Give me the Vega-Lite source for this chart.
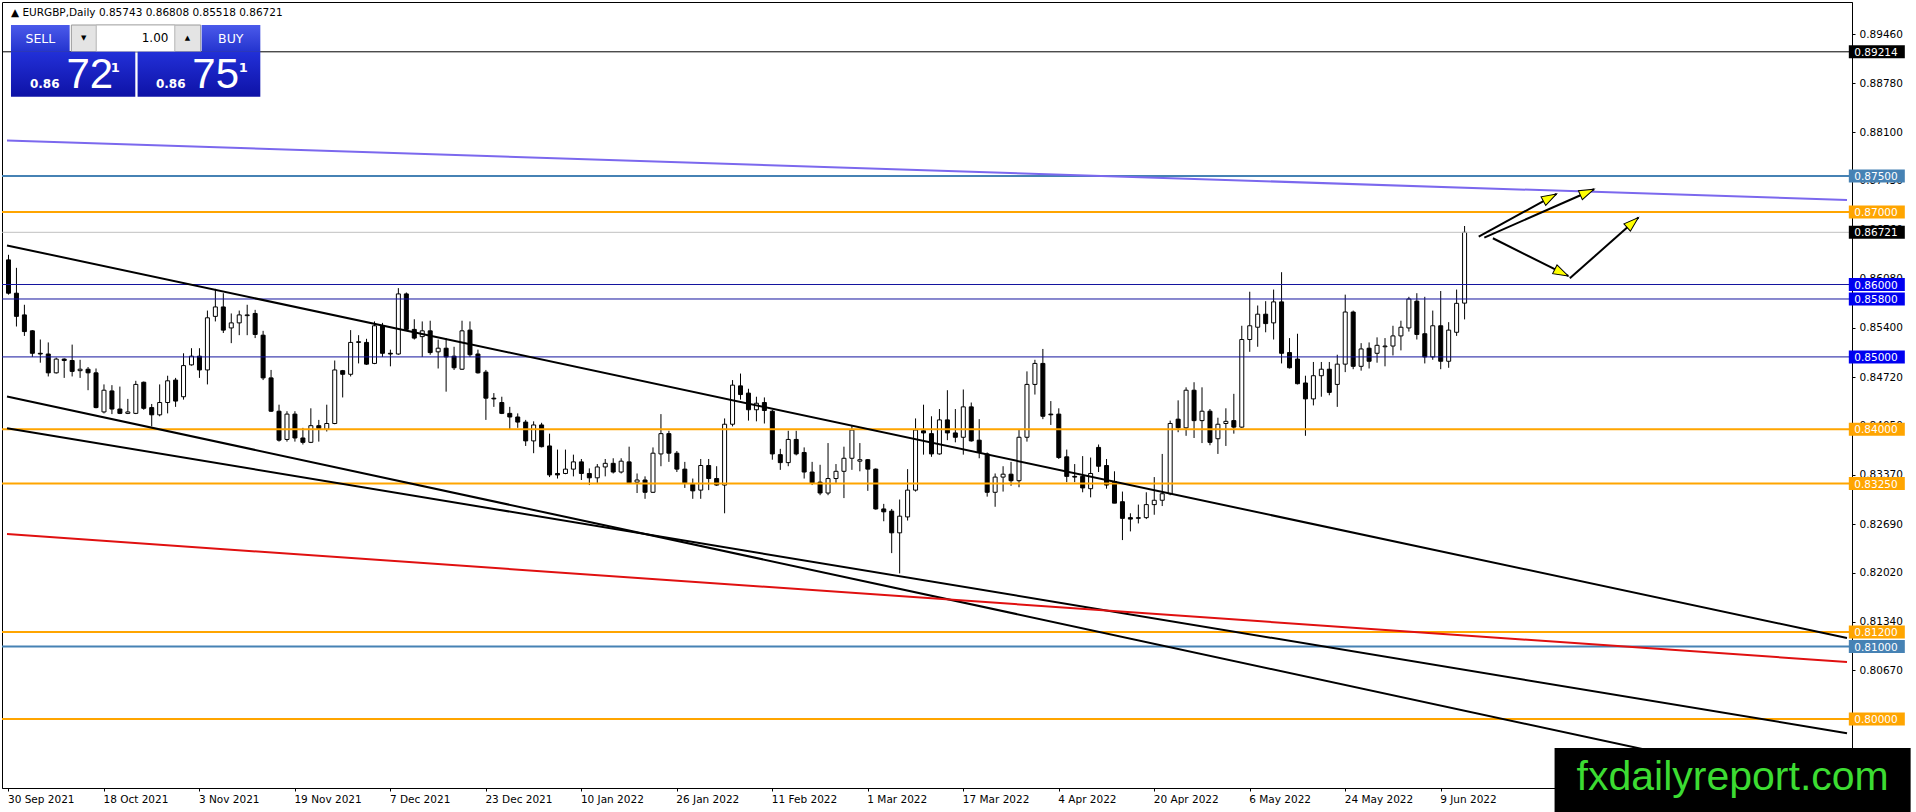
{
  "$schema": "https://vega.github.io/schema/vega-lite/v6.json",
  "description": "EURGBP daily candles, 30 Sep 2021 - 14 Jun 2022, with levels and trend lines",
  "width": 1850,
  "height": 786,
  "autosize": {"type": "none"},
  "padding": {"left": 2, "top": 2, "right": 64, "bottom": 24},
  "background": "white",
  "config": {"view": {"stroke": "#000000", "strokeWidth": 1}, "font": "DejaVu Sans"},
  "resolve": {"axis": {"x": "independent", "y": "independent"}},
  "data": {"values": [{}]},
  "datasets": {
    "candles": [
      {"i":0,"o":0.8634,"h":0.8641,"l":0.8586,"c":0.8588},{"i":1,"o":0.8588,"h":0.8623,"l":0.8542,"c":0.8556},{"i":2,"o":0.8558,"h":0.8572,"l":0.8529,"c":0.8535},{"i":3,"o":0.8536,"h":0.8537,"l":0.85,"c":0.8505},
      {"i":4,"o":0.8505,"h":0.8524,"l":0.8492,"c":0.8504},{"i":5,"o":0.8504,"h":0.852,"l":0.8473,"c":0.8478},{"i":6,"o":0.8478,"h":0.8499,"l":0.8477,"c":0.8497},{"i":7,"o":0.8497,"h":0.8498,"l":0.8471,"c":0.8495},
      {"i":8,"o":0.8495,"h":0.8517,"l":0.8473,"c":0.848},{"i":9,"o":0.8481,"h":0.8496,"l":0.8471,"c":0.8483},{"i":10,"o":0.8483,"h":0.8486,"l":0.8454,"c":0.8478},{"i":11,"o":0.8478,"h":0.8484,"l":0.8429,"c":0.843},
      {"i":12,"o":0.8424,"h":0.8462,"l":0.8422,"c":0.8454},{"i":13,"o":0.8453,"h":0.8461,"l":0.8421,"c":0.8428},{"i":14,"o":0.8428,"h":0.8459,"l":0.8421,"c":0.8422},{"i":15,"o":0.8422,"h":0.8442,"l":0.8421,"c":0.8424},
      {"i":16,"o":0.8422,"h":0.8467,"l":0.8421,"c":0.8462},{"i":17,"o":0.8465,"h":0.8466,"l":0.8427,"c":0.8429},{"i":18,"o":0.843,"h":0.8435,"l":0.8404,"c":0.842},{"i":19,"o":0.842,"h":0.8462,"l":0.8418,"c":0.8437},
      {"i":20,"o":0.8437,"h":0.8474,"l":0.8422,"c":0.8467},{"i":21,"o":0.8468,"h":0.8471,"l":0.8431,"c":0.8439},{"i":22,"o":0.8445,"h":0.8505,"l":0.8441,"c":0.8488},{"i":23,"o":0.8489,"h":0.8512,"l":0.8488,"c":0.8501},
      {"i":24,"o":0.8501,"h":0.8512,"l":0.8471,"c":0.8482},{"i":25,"o":0.8482,"h":0.8564,"l":0.8462,"c":0.8554},{"i":26,"o":0.8556,"h":0.8594,"l":0.8549,"c":0.8569},{"i":27,"o":0.8569,"h":0.8588,"l":0.8533,"c":0.8537},
      {"i":28,"o":0.854,"h":0.856,"l":0.8519,"c":0.8547},{"i":29,"o":0.8547,"h":0.8564,"l":0.853,"c":0.8558},{"i":30,"o":0.8557,"h":0.8572,"l":0.853,"c":0.8558},{"i":31,"o":0.856,"h":0.8565,"l":0.8526,"c":0.8531},
      {"i":32,"o":0.853,"h":0.8536,"l":0.8468,"c":0.8471},{"i":33,"o":0.8471,"h":0.8482,"l":0.8424,"c":0.8425},{"i":34,"o":0.8425,"h":0.8434,"l":0.8383,"c":0.8385},{"i":35,"o":0.8386,"h":0.8425,"l":0.8383,"c":0.8421},
      {"i":36,"o":0.8421,"h":0.8425,"l":0.8383,"c":0.8388},{"i":37,"o":0.8388,"h":0.8402,"l":0.8379,"c":0.8382},{"i":38,"o":0.8382,"h":0.8429,"l":0.8381,"c":0.8405},{"i":39,"o":0.8405,"h":0.8413,"l":0.8383,"c":0.8401},
      {"i":40,"o":0.84,"h":0.8434,"l":0.8397,"c":0.8408},{"i":41,"o":0.8408,"h":0.8495,"l":0.8407,"c":0.8482},{"i":42,"o":0.8481,"h":0.8482,"l":0.8444,"c":0.8476},{"i":43,"o":0.8476,"h":0.8537,"l":0.8473,"c":0.852},
      {"i":44,"o":0.852,"h":0.853,"l":0.8491,"c":0.8521},{"i":45,"o":0.852,"h":0.8525,"l":0.8489,"c":0.849},{"i":46,"o":0.8491,"h":0.8549,"l":0.849,"c":0.8543},{"i":47,"o":0.8543,"h":0.8547,"l":0.85,"c":0.8505},
      {"i":48,"o":0.8505,"h":0.851,"l":0.8487,"c":0.8504},{"i":49,"o":0.8504,"h":0.8595,"l":0.8503,"c":0.8587},{"i":50,"o":0.8587,"h":0.8589,"l":0.8537,"c":0.8538},{"i":51,"o":0.8538,"h":0.8552,"l":0.8524,"c":0.8526},
      {"i":52,"o":0.8528,"h":0.8549,"l":0.85,"c":0.8536},{"i":53,"o":0.8536,"h":0.855,"l":0.8503,"c":0.8506},{"i":54,"o":0.8507,"h":0.8524,"l":0.8484,"c":0.8512},{"i":55,"o":0.8512,"h":0.8526,"l":0.8452,"c":0.85},
      {"i":56,"o":0.8501,"h":0.8514,"l":0.8482,"c":0.8485},{"i":57,"o":0.8483,"h":0.855,"l":0.8482,"c":0.8536},{"i":58,"o":0.8537,"h":0.8549,"l":0.85,"c":0.8503},{"i":59,"o":0.8504,"h":0.851,"l":0.8477,"c":0.8478},
      {"i":60,"o":0.8479,"h":0.8482,"l":0.8413,"c":0.8443},{"i":61,"o":0.8443,"h":0.845,"l":0.8431,"c":0.8442},{"i":62,"o":0.8437,"h":0.8445,"l":0.8421,"c":0.8422},{"i":63,"o":0.8422,"h":0.8431,"l":0.84,"c":0.8417},
      {"i":64,"o":0.8417,"h":0.8422,"l":0.8402,"c":0.841},{"i":65,"o":0.841,"h":0.8413,"l":0.8377,"c":0.8384},{"i":66,"o":0.8384,"h":0.8411,"l":0.8367,"c":0.8406},{"i":67,"o":0.8406,"h":0.8409,"l":0.8375,"c":0.8376},
      {"i":68,"o":0.8377,"h":0.8394,"l":0.8334,"c":0.8337},{"i":69,"o":0.8339,"h":0.8372,"l":0.8332,"c":0.8337},{"i":70,"o":0.8339,"h":0.8372,"l":0.8338,"c":0.8345},{"i":71,"o":0.8345,"h":0.8365,"l":0.8335,"c":0.8355},
      {"i":72,"o":0.8355,"h":0.8359,"l":0.833,"c":0.8339},{"i":73,"o":0.8339,"h":0.8346,"l":0.8323,"c":0.8333},{"i":74,"o":0.8333,"h":0.8352,"l":0.8326,"c":0.8348},{"i":75,"o":0.8348,"h":0.8359,"l":0.8335,"c":0.8353},
      {"i":76,"o":0.8353,"h":0.836,"l":0.8339,"c":0.8341},{"i":77,"o":0.8341,"h":0.836,"l":0.8339,"c":0.8356},{"i":78,"o":0.8355,"h":0.8376,"l":0.8325,"c":0.8326},{"i":79,"o":0.8327,"h":0.8339,"l":0.8312,"c":0.833},
      {"i":80,"o":0.833,"h":0.8335,"l":0.8304,"c":0.8313},{"i":81,"o":0.8313,"h":0.8375,"l":0.8312,"c":0.8367},{"i":82,"o":0.8366,"h":0.8421,"l":0.8349,"c":0.8394},{"i":83,"o":0.8394,"h":0.8398,"l":0.8355,"c":0.8367},
      {"i":84,"o":0.8367,"h":0.837,"l":0.8341,"c":0.8345},{"i":85,"o":0.8345,"h":0.8355,"l":0.8319,"c":0.8326},{"i":86,"o":0.8324,"h":0.8332,"l":0.8304,"c":0.8315},{"i":87,"o":0.8316,"h":0.8359,"l":0.8304,"c":0.835},
      {"i":88,"o":0.835,"h":0.8359,"l":0.8316,"c":0.8332},{"i":89,"o":0.8332,"h":0.8349,"l":0.8322,"c":0.8323},{"i":90,"o":0.8323,"h":0.8415,"l":0.8284,"c":0.8407},{"i":91,"o":0.8407,"h":0.8468,"l":0.8404,"c":0.8461},
      {"i":92,"o":0.846,"h":0.8477,"l":0.8441,"c":0.8448},{"i":93,"o":0.845,"h":0.8456,"l":0.8412,"c":0.8427},{"i":94,"o":0.8427,"h":0.8445,"l":0.8411,"c":0.8436},{"i":95,"o":0.8437,"h":0.8444,"l":0.8408,"c":0.8426},
      {"i":96,"o":0.8425,"h":0.8427,"l":0.8358,"c":0.8366},{"i":97,"o":0.8365,"h":0.8373,"l":0.8344,"c":0.8354},{"i":98,"o":0.8354,"h":0.8398,"l":0.8349,"c":0.8386},{"i":99,"o":0.8386,"h":0.8398,"l":0.8364,"c":0.8366},
      {"i":100,"o":0.8368,"h":0.8375,"l":0.8332,"c":0.8341},{"i":101,"o":0.8341,"h":0.8355,"l":0.8323,"c":0.8326},{"i":102,"o":0.8327,"h":0.8351,"l":0.8309,"c":0.8312},{"i":103,"o":0.8312,"h":0.8381,"l":0.8309,"c":0.8332},
      {"i":104,"o":0.8332,"h":0.8352,"l":0.8326,"c":0.8342},{"i":105,"o":0.8342,"h":0.8376,"l":0.8305,"c":0.836},{"i":106,"o":0.836,"h":0.8405,"l":0.8344,"c":0.8399},{"i":107,"o":0.8356,"h":0.8381,"l":0.8342,"c":0.8358},
      {"i":108,"o":0.8358,"h":0.8359,"l":0.8315,"c":0.8345},{"i":109,"o":0.8345,"h":0.8346,"l":0.8289,"c":0.829},{"i":110,"o":0.829,"h":0.8297,"l":0.8273,"c":0.8286},{"i":111,"o":0.8287,"h":0.829,"l":0.8229,"c":0.8257},
      {"i":112,"o":0.8257,"h":0.8303,"l":0.8201,"c":0.828},{"i":113,"o":0.8279,"h":0.8345,"l":0.8274,"c":0.8316},{"i":114,"o":0.8316,"h":0.8415,"l":0.8314,"c":0.8399},{"i":115,"o":0.8398,"h":0.8434,"l":0.8365,"c":0.8395},
      {"i":116,"o":0.8394,"h":0.8418,"l":0.8362,"c":0.8366},{"i":117,"o":0.8366,"h":0.8428,"l":0.8365,"c":0.8413},{"i":118,"o":0.8413,"h":0.8454,"l":0.8385,"c":0.8395},{"i":119,"o":0.8395,"h":0.8428,"l":0.8382,"c":0.8389},
      {"i":120,"o":0.8389,"h":0.8455,"l":0.8365,"c":0.8431},{"i":121,"o":0.8431,"h":0.8437,"l":0.8383,"c":0.8384},{"i":122,"o":0.8385,"h":0.8414,"l":0.836,"c":0.8368},{"i":123,"o":0.8366,"h":0.8368,"l":0.8307,"c":0.8313},
      {"i":124,"o":0.8313,"h":0.8339,"l":0.8293,"c":0.8334},{"i":125,"o":0.8334,"h":0.8349,"l":0.8314,"c":0.8338},{"i":126,"o":0.8338,"h":0.8355,"l":0.8322,"c":0.8329},{"i":127,"o":0.8329,"h":0.8399,"l":0.832,"c":0.8389},
      {"i":128,"o":0.8389,"h":0.848,"l":0.8383,"c":0.8462},{"i":129,"o":0.8462,"h":0.8496,"l":0.8448,"c":0.8491},{"i":130,"o":0.8491,"h":0.8511,"l":0.8414,"c":0.8418},{"i":131,"o":0.8421,"h":0.8439,"l":0.8406,"c":0.842},
      {"i":132,"o":0.8421,"h":0.8429,"l":0.8359,"c":0.8361},{"i":133,"o":0.8362,"h":0.8372,"l":0.8327,"c":0.8335},{"i":134,"o":0.8335,"h":0.8352,"l":0.8327,"c":0.8334},{"i":135,"o":0.8335,"h":0.8363,"l":0.8313,"c":0.8319},
      {"i":136,"o":0.8318,"h":0.8361,"l":0.8306,"c":0.8339},{"i":137,"o":0.8375,"h":0.8379,"l":0.8341,"c":0.8349},{"i":138,"o":0.835,"h":0.8359,"l":0.8318,"c":0.8323},{"i":139,"o":0.8328,"h":0.8342,"l":0.8298,"c":0.8298},
      {"i":140,"o":0.83,"h":0.8314,"l":0.8247,"c":0.8277},{"i":141,"o":0.8278,"h":0.8284,"l":0.8259,"c":0.8276},{"i":142,"o":0.8277,"h":0.8296,"l":0.827,"c":0.8278},{"i":143,"o":0.8278,"h":0.8313,"l":0.8276,"c":0.8296},
      {"i":144,"o":0.8296,"h":0.8334,"l":0.8282,"c":0.8302},{"i":145,"o":0.8302,"h":0.8366,"l":0.8294,"c":0.8311},{"i":146,"o":0.8311,"h":0.8412,"l":0.8309,"c":0.8408},{"i":147,"o":0.8414,"h":0.844,"l":0.8396,"c":0.8402},
      {"i":148,"o":0.8402,"h":0.8458,"l":0.8391,"c":0.8454},{"i":149,"o":0.8454,"h":0.8465,"l":0.8388,"c":0.8412},{"i":150,"o":0.8412,"h":0.8458,"l":0.8381,"c":0.8425},{"i":151,"o":0.8425,"h":0.8428,"l":0.8378,"c":0.8382},
      {"i":152,"o":0.8387,"h":0.8416,"l":0.8366,"c":0.8407},{"i":153,"o":0.8408,"h":0.8429,"l":0.8377,"c":0.8411},{"i":154,"o":0.8412,"h":0.8449,"l":0.8394,"c":0.8403},{"i":155,"o":0.8403,"h":0.8543,"l":0.8402,"c":0.8524},
      {"i":156,"o":0.8524,"h":0.859,"l":0.8507,"c":0.8543},{"i":157,"o":0.8541,"h":0.8571,"l":0.8514,"c":0.8559},{"i":158,"o":0.8559,"h":0.8577,"l":0.8534,"c":0.8546},{"i":159,"o":0.8547,"h":0.8593,"l":0.8524,"c":0.8576},
      {"i":160,"o":0.8576,"h":0.8617,"l":0.8491,"c":0.8505},{"i":161,"o":0.8506,"h":0.8526,"l":0.8484,"c":0.8485},{"i":162,"o":0.8497,"h":0.8532,"l":0.8462,"c":0.8463},{"i":163,"o":0.8464,"h":0.8474,"l":0.8391,"c":0.8442},
      {"i":164,"o":0.8442,"h":0.8493,"l":0.8433,"c":0.8474},{"i":165,"o":0.8474,"h":0.8493,"l":0.8445,"c":0.8483},{"i":166,"o":0.8483,"h":0.8493,"l":0.8447,"c":0.8451},{"i":167,"o":0.8462,"h":0.8503,"l":0.8431,"c":0.849},
      {"i":168,"o":0.849,"h":0.8586,"l":0.8479,"c":0.8562},{"i":169,"o":0.8562,"h":0.8564,"l":0.8483,"c":0.8487},{"i":170,"o":0.8487,"h":0.8519,"l":0.8481,"c":0.8511},{"i":171,"o":0.8512,"h":0.852,"l":0.8484,"c":0.8494},
      {"i":172,"o":0.8505,"h":0.8527,"l":0.8492,"c":0.8516},{"i":173,"o":0.8514,"h":0.8526,"l":0.8487,"c":0.8515},{"i":174,"o":0.8515,"h":0.8543,"l":0.8502,"c":0.8529},{"i":175,"o":0.8529,"h":0.855,"l":0.8509,"c":0.8541},
      {"i":176,"o":0.854,"h":0.8583,"l":0.8535,"c":0.858},{"i":177,"o":0.8577,"h":0.8588,"l":0.8524,"c":0.8531},{"i":178,"o":0.8532,"h":0.8583,"l":0.8491,"c":0.85},{"i":179,"o":0.85,"h":0.8564,"l":0.8496,"c":0.8543},
      {"i":180,"o":0.8543,"h":0.8591,"l":0.8483,"c":0.8494},{"i":181,"o":0.8494,"h":0.8548,"l":0.8485,"c":0.8537},{"i":182,"o":0.8534,"h":0.8593,"l":0.8529,"c":0.8574},{"i":183,"o":0.85743,"h":0.86808,"l":0.85518,"c":0.86721}
    ],
    "levels": [
      {"p":0.89214,"kind":"black"},{"p":0.875,"kind":"steel"},{"p":0.87,"kind":"orange"},{"p":0.86721,"kind":"gray"},
      {"p":0.86,"kind":"blue"},{"p":0.858,"kind":"blue"},{"p":0.85,"kind":"blue"},{"p":0.84,"kind":"orange"},
      {"p":0.8325,"kind":"orange"},{"p":0.812,"kind":"orange"},{"p":0.81,"kind":"steel"},{"p":0.8,"kind":"orange"}
    ],
    "trend": [
      {"ln":"a","i":-0.1875,"p":0.8654},{"ln":"a","i":231.0625,"p":0.81118},
      {"ln":"b","i":-0.1875,"p":0.84454},{"ln":"b","i":231.0625,"p":0.78975},
      {"ln":"c","i":-0.1875,"p":0.84014},{"ln":"c","i":231.0625,"p":0.79803},
      {"ln":"red","i":-0.1875,"p":0.82553},{"ln":"red","i":231.0625,"p":0.80786},
      {"ln":"purple","i":-0.1875,"p":0.87988},{"ln":"purple","i":231.0625,"p":0.87167}
    ],
    "arrows": [
      {"a":"A","i":184.78,"p":0.86661,"i2":194.56,"p2":0.87251},
      {"a":"B","i":185.48,"p":0.86647,"i2":199.28,"p2":0.87316},
      {"a":"C","i":186.56,"p":0.86639,"i2":196.03,"p2":0.86118},
      {"a":"D","i":196.23,"p":0.86087,"i2":204.85,"p2":0.86924}
    ]
  },
  "layer": [
    {
      "data": {"name": "candles"},
      "mark": {"type": "rule", "clip": true, "color": "#000000", "strokeWidth": 1},
      "encoding": {
        "x": {
          "field": "i", "type": "quantitative",
          "scale": {"domain": [-0.1875, 231.0625], "nice": false, "zero": false},
          "axis": {
            "orient": "bottom", "title": null, "grid": false,
            "values": [0, 12, 24, 36, 48, 60, 72, 84, 96, 108, 120, 132, 144, 156, 168, 180],
            "labelExpr": "['30 Sep 2021','18 Oct 2021','3 Nov 2021','19 Nov 2021','7 Dec 2021','23 Dec 2021','10 Jan 2022','26 Jan 2022','11 Feb 2022','1 Mar 2022','17 Mar 2022','4 Apr 2022','20 Apr 2022','6 May 2022','24 May 2022','9 Jun 2022'][round(datum.value / 12)]",
            "tickSize": 3, "tickColor": "#000000", "domainColor": "#000000",
            "labelColor": "#000000", "labelFont": "DejaVu Sans", "labelFontSize": 10.5,
            "labelAlign": "left", "labelBaseline": "top", "labelPadding": 3, "labelOffset": -1,
            "labelFlush": false, "labelOverlap": false, "labelBound": false
          }
        },
        "y": {
          "field": "l", "type": "quantitative",
          "scale": {"domain": [0.790457, 0.89902], "nice": false, "zero": false},
          "axis": {
            "orient": "right", "title": null, "grid": false,
            "values": [0.8946, 0.8878, 0.881, 0.8743, 0.8676, 0.8608, 0.854, 0.8472, 0.8405, 0.8337, 0.8269, 0.8202, 0.8134, 0.8067, 0.7999],
            "format": ".5f", "tickSize": 3, "tickColor": "#000000", "domainColor": "#000000",
            "labelColor": "#000000", "labelFont": "DejaVu Sans", "labelFontSize": 10.5,
            "labelPadding": 4, "labelFlush": false, "labelOverlap": false, "labelBound": false
          }
        },
        "y2": {"field": "h"}
      }
    },
    {
      "data": {"name": "candles"},
      "mark": {"type": "bar", "clip": true, "orient": "vertical", "width": 4, "stroke": "#000000", "strokeWidth": 1},
      "encoding": {
        "x": {"field": "i", "type": "quantitative", "axis": null},
        "y": {"field": "o", "type": "quantitative", "axis": null},
        "y2": {"field": "c"},
        "fill": {"condition": {"test": "datum.c >= datum.o", "value": "#ffffff"}, "value": "#000000"}
      }
    },
    {
      "data": {"name": "levels"},
      "transform": [{"filter": "datum.kind == 'orange' || datum.kind == 'steel'"}],
      "mark": {"type": "rule", "strokeWidth": 2},
      "encoding": {
        "y": {"field": "p", "type": "quantitative", "axis": null},
        "stroke": {"field": "kind", "type": "nominal", "legend": null,
          "scale": {"domain": ["black", "steel", "orange", "gray", "blue"], "range": ["#000000", "#4682B4", "#FFA500", "#C0C0C0", "#14149E"]}}
      }
    },
    {
      "data": {"name": "levels"},
      "transform": [{"filter": "datum.kind == 'black' || datum.kind == 'gray' || datum.kind == 'blue'"}],
      "mark": {"type": "rule", "strokeWidth": 1},
      "encoding": {
        "y": {"field": "p", "type": "quantitative", "axis": null},
        "stroke": {"field": "kind", "type": "nominal", "legend": null}
      }
    },
    {
      "data": {"name": "trend"},
      "mark": {"type": "line", "clip": true, "strokeWidth": 2},
      "encoding": {
        "x": {"field": "i", "type": "quantitative", "axis": null},
        "y": {"field": "p", "type": "quantitative", "axis": null},
        "color": {"field": "ln", "type": "nominal", "legend": null,
          "scale": {"domain": ["a", "b", "c", "red", "purple"], "range": ["#000000", "#000000", "#000000", "#E01010", "#7B68EE"]}}
      }
    },
    {
      "data": {"name": "arrows"},
      "mark": {"type": "rule", "color": "#000000", "strokeWidth": 2},
      "encoding": {
        "x": {"field": "i", "type": "quantitative", "axis": null},
        "y": {"field": "p", "type": "quantitative", "axis": null},
        "x2": {"field": "i2"},
        "y2": {"field": "p2"}
      }
    },
    {
      "data": {"name": "arrows"},
      "transform": [{"filter": "datum.a == 'A'"}],
      "mark": {"type": "point", "shape": "M0,0L0.65,2L-0.65,2Z", "size": 225, "filled": true, "fill": "#FFFF00", "stroke": "#000000", "strokeWidth": 1, "opacity": 1, "angle": 61.4},
      "encoding": {"x": {"field": "i2", "type": "quantitative", "axis": null}, "y": {"field": "p2", "type": "quantitative", "axis": null}}
    },
    {
      "data": {"name": "arrows"},
      "transform": [{"filter": "datum.a == 'B'"}],
      "mark": {"type": "point", "shape": "M0,0L0.65,2L-0.65,2Z", "size": 225, "filled": true, "fill": "#FFFF00", "stroke": "#000000", "strokeWidth": 1, "opacity": 1, "angle": 66.3},
      "encoding": {"x": {"field": "i2", "type": "quantitative", "axis": null}, "y": {"field": "p2", "type": "quantitative", "axis": null}}
    },
    {
      "data": {"name": "arrows"},
      "transform": [{"filter": "datum.a == 'C'"}],
      "mark": {"type": "point", "shape": "M0,0L0.65,2L-0.65,2Z", "size": 225, "filled": true, "fill": "#FFFF00", "stroke": "#000000", "strokeWidth": 1, "opacity": 1, "angle": 116.5},
      "encoding": {"x": {"field": "i2", "type": "quantitative", "axis": null}, "y": {"field": "p2", "type": "quantitative", "axis": null}}
    },
    {
      "data": {"name": "arrows"},
      "transform": [{"filter": "datum.a == 'D'"}],
      "mark": {"type": "point", "shape": "M0,0L0.65,2L-0.65,2Z", "size": 225, "filled": true, "fill": "#FFFF00", "stroke": "#000000", "strokeWidth": 1, "opacity": 1, "angle": 48.7},
      "encoding": {"x": {"field": "i2", "type": "quantitative", "axis": null}, "y": {"field": "p2", "type": "quantitative", "axis": null}}
    },
    {
      "data": {"name": "levels"},
      "mark": {"type": "tick", "orient": "horizontal", "size": 56, "thickness": 13, "opacity": 1},
      "encoding": {
        "x": {"datum": 234.81, "type": "quantitative", "axis": null},
        "y": {"field": "p", "type": "quantitative", "axis": null},
        "fill": {"field": "kind", "type": "nominal", "legend": null,
          "scale": {"domain": ["black", "steel", "orange", "gray", "blue"], "range": ["#000000", "#4682B4", "#FFA500", "#000000", "#0000F0"]}}
      }
    },
    {
      "data": {"name": "levels"},
      "mark": {"type": "text", "align": "left", "baseline": "middle", "color": "#ffffff", "font": "DejaVu Sans", "fontSize": 10.5, "dy": 1},
      "encoding": {
        "x": {"datum": 231.98, "type": "quantitative", "axis": null},
        "y": {"field": "p", "type": "quantitative", "axis": null},
        "text": {"field": "p", "type": "quantitative", "format": ".5f"}
      }
    },
    {
      "mark": {"type": "text", "align": "left", "baseline": "middle", "color": "#000000", "font": "DejaVu Sans", "fontSize": 10.5, "text": "▲  EURGBP,Daily  0.85743 0.86808 0.85518 0.86721"},
      "encoding": {"x": {"datum": 0.3125, "type": "quantitative", "axis": null}, "y": {"datum": 0.897542, "type": "quantitative", "axis": null}}
    },
    {
      "mark": {"type": "rect", "stroke": "#9A9A9A", "strokeWidth": 1, "fill": "#E4E4E4"},
      "encoding": {"x": {"datum": 7.9, "type": "quantitative", "axis": null}, "x2": {"datum": 24.15}, "y": {"datum": 0.895843, "type": "quantitative", "axis": null}, "y2": {"datum": 0.892155}}
    },
    {
      "mark": {"type": "rect", "stroke": "#B4B4B4", "strokeWidth": 1, "fill": "#ffffff"},
      "encoding": {"x": {"datum": 11.025, "type": "quantitative", "axis": null}, "x2": {"datum": 20.9}, "y": {"datum": 0.895843, "type": "quantitative", "axis": null}, "y2": {"datum": 0.892155}}
    },
    {
      "mark": {"type": "rect", "fill": {"gradient": "linear", "x1": 0, "y1": 0, "x2": 0, "y2": 1, "stops": [{"offset": 0, "color": "#4B5AEA"}, {"offset": 1, "color": "#2434CF"}]}},
      "encoding": {"x": {"datum": 0.3125, "type": "quantitative", "axis": null}, "x2": {"datum": 7.6875}, "y": {"datum": 0.895843, "type": "quantitative", "axis": null}, "y2": {"datum": 0.892155}}
    },
    {
      "mark": {"type": "rect", "fill": {"gradient": "linear", "x1": 0, "y1": 0, "x2": 0, "y2": 1, "stops": [{"offset": 0, "color": "#4B5AEA"}, {"offset": 1, "color": "#2434CF"}]}},
      "encoding": {"x": {"datum": 24.275, "type": "quantitative", "axis": null}, "x2": {"datum": 31.65}, "y": {"datum": 0.895843, "type": "quantitative", "axis": null}, "y2": {"datum": 0.892155}}
    },
    {
      "mark": {"type": "rect", "fill": {"gradient": "linear", "x1": 0, "y1": 0, "x2": 0, "y2": 1, "stops": [{"offset": 0, "color": "#2230D8"}, {"offset": 1, "color": "#0E12A6"}]}},
      "encoding": {"x": {"datum": 0.3125, "type": "quantitative", "axis": null}, "x2": {"datum": 15.9375}, "y": {"datum": 0.892155, "type": "quantitative", "axis": null}, "y2": {"datum": 0.88594}}
    },
    {
      "mark": {"type": "rect", "fill": {"gradient": "linear", "x1": 0, "y1": 0, "x2": 0, "y2": 1, "stops": [{"offset": 0, "color": "#2230D8"}, {"offset": 1, "color": "#0E12A6"}]}},
      "encoding": {"x": {"datum": 16.225, "type": "quantitative", "axis": null}, "x2": {"datum": 31.65}, "y": {"datum": 0.892155, "type": "quantitative", "axis": null}, "y2": {"datum": 0.88594}}
    },
    {
      "mark": {"type": "text", "align": "center", "baseline": "middle", "color": "#ffffff", "font": "DejaVu Sans", "fontSize": 12.5, "text": "SELL"},
      "encoding": {"x": {"datum": 4.0, "type": "quantitative", "axis": null}, "y": {"datum": 0.893909, "type": "quantitative", "axis": null}}
    },
    {
      "mark": {"type": "text", "align": "center", "baseline": "middle", "color": "#ffffff", "font": "DejaVu Sans", "fontSize": 12.5, "text": "BUY"},
      "encoding": {"x": {"datum": 27.94, "type": "quantitative", "axis": null}, "y": {"datum": 0.893909, "type": "quantitative", "axis": null}}
    },
    {
      "mark": {"type": "text", "align": "center", "baseline": "middle", "color": "#000000", "font": "DejaVu Sans", "fontSize": 7, "text": "▼"},
      "encoding": {"x": {"datum": 9.4375, "type": "quantitative", "axis": null}, "y": {"datum": 0.894047, "type": "quantitative", "axis": null}}
    },
    {
      "mark": {"type": "text", "align": "center", "baseline": "middle", "color": "#000000", "font": "DejaVu Sans", "fontSize": 7, "text": "▲"},
      "encoding": {"x": {"datum": 22.5, "type": "quantitative", "axis": null}, "y": {"datum": 0.894047, "type": "quantitative", "axis": null}}
    },
    {
      "mark": {"type": "text", "align": "right", "baseline": "middle", "color": "#000000", "font": "DejaVu Sans", "fontSize": 12, "text": "1.00"},
      "encoding": {"x": {"datum": 20.1, "type": "quantitative", "axis": null}, "y": {"datum": 0.894047, "type": "quantitative", "axis": null}}
    },
    {
      "mark": {"type": "text", "align": "left", "baseline": "alphabetic", "color": "#ffffff", "font": "DejaVu Sans", "fontWeight": "bold", "fontSize": 12, "text": "0.86"},
      "encoding": {"x": {"datum": 2.6875, "type": "quantitative", "axis": null}, "y": {"datum": 0.8871, "type": "quantitative", "axis": null}}
    },
    {
      "mark": {"type": "text", "align": "left", "baseline": "alphabetic", "color": "#ffffff", "font": "DejaVu Sans", "fontWeight": "bold", "fontSize": 12, "text": "0.86"},
      "encoding": {"x": {"datum": 18.525, "type": "quantitative", "axis": null}, "y": {"datum": 0.8871, "type": "quantitative", "axis": null}}
    },
    {
      "mark": {"type": "text", "align": "left", "baseline": "alphabetic", "color": "#ffffff", "font": "Liberation Sans Narrow, Liberation Sans", "fontSize": 42, "text": "72"},
      "encoding": {"x": {"datum": 7.275, "type": "quantitative", "axis": null}, "y": {"datum": 0.8871, "type": "quantitative", "axis": null}}
    },
    {
      "mark": {"type": "text", "align": "left", "baseline": "alphabetic", "color": "#ffffff", "font": "Liberation Sans Narrow, Liberation Sans", "fontSize": 42, "text": "75"},
      "encoding": {"x": {"datum": 23.1, "type": "quantitative", "axis": null}, "y": {"datum": 0.8871, "type": "quantitative", "axis": null}}
    },
    {
      "mark": {"type": "text", "align": "left", "baseline": "alphabetic", "color": "#ffffff", "font": "DejaVu Sans", "fontWeight": "bold", "fontSize": 13, "text": "1"},
      "encoding": {"x": {"datum": 12.85, "type": "quantitative", "axis": null}, "y": {"datum": 0.889393, "type": "quantitative", "axis": null}}
    },
    {
      "mark": {"type": "text", "align": "left", "baseline": "alphabetic", "color": "#ffffff", "font": "DejaVu Sans", "fontWeight": "bold", "fontSize": 13, "text": "1"},
      "encoding": {"x": {"datum": 28.94, "type": "quantitative", "axis": null}, "y": {"datum": 0.889393, "type": "quantitative", "axis": null}}
    },
    {
      "mark": {"type": "rect", "fill": "#000000"},
      "encoding": {"x": {"datum": 194.31, "type": "quantitative", "axis": null}, "x2": {"datum": 239.06}, "y": {"datum": 0.795982, "type": "quantitative", "axis": null}, "y2": {"datum": 0.787143}}
    },
    {
      "mark": {"type": "text", "align": "center", "baseline": "alphabetic", "color": "#3CDC32", "font": "Liberation Sans", "fontSize": 41, "text": "fxdailyreport.com"},
      "encoding": {"x": {"datum": 216.69, "type": "quantitative", "axis": null}, "y": {"datum": 0.790181, "type": "quantitative", "axis": null}}
    }
  ]
}
